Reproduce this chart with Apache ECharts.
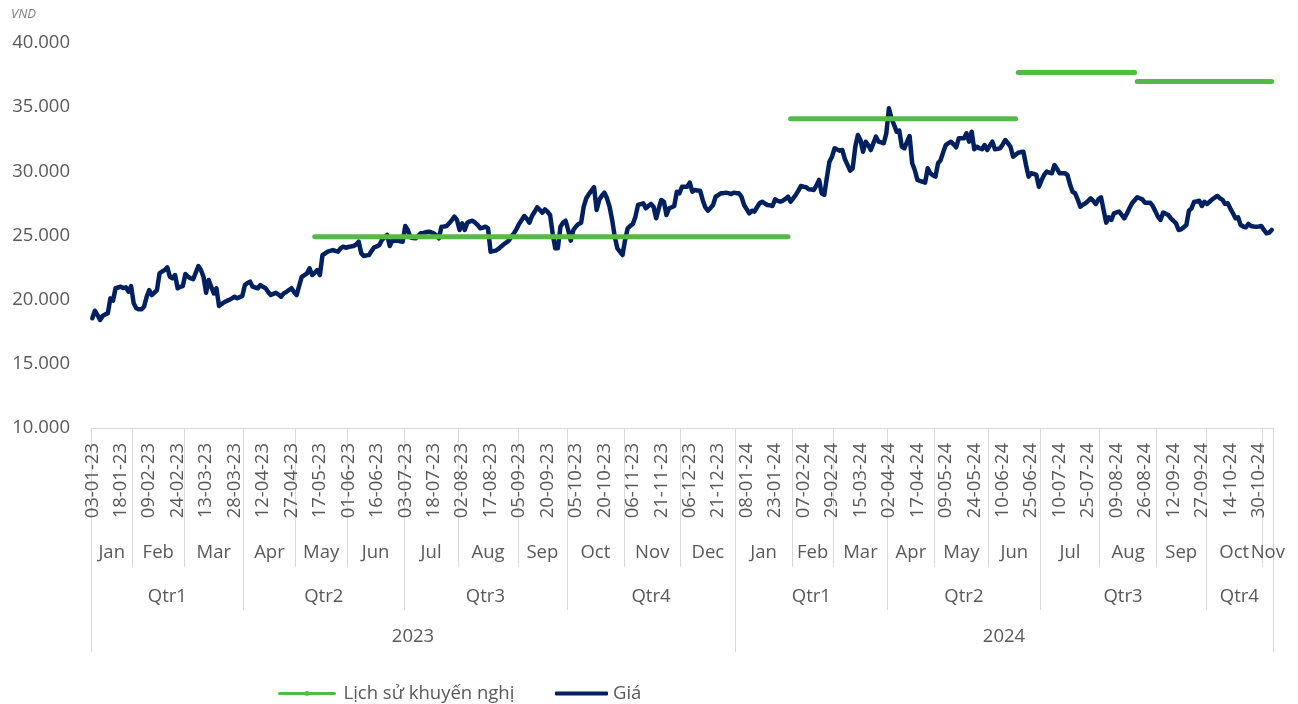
<!DOCTYPE html>
<html>
<head>
<meta charset="utf-8">
<script src="https://cdn.jsdelivr.net/npm/echarts@6/dist/echarts.min.js"></script>
<style>
html, body { margin: 0; padding: 0; background: #fff; }
#chart { width: 1298px; height: 704px; }
</style>
</head>
<body>
<div id="chart"></div>
<script>
// nhãn ngày, cứ 11 phiên hiện một nhãn
const dateLabels = [
  '03-01-23', '18-01-23', '09-02-23', '24-02-23', '13-03-23', '28-03-23', '12-04-23', '27-04-23',
  '17-05-23', '01-06-23', '16-06-23', '03-07-23', '18-07-23', '02-08-23', '17-08-23', '05-09-23',
  '20-09-23', '05-10-23', '20-10-23', '06-11-23', '21-11-23', '06-12-23', '21-12-23',
  '08-01-24', '23-01-24', '07-02-24', '29-02-24', '15-03-24', '02-04-24', '17-04-24', '09-05-24',
  '24-05-24', '10-06-24', '25-06-24', '10-07-24', '25-07-24', '09-08-24', '26-08-24', '12-09-24',
  '27-09-24', '14-10-24', '30-10-24'
];
const years = ['2023', '2024'];
const monthsPerYear = [12, 11];
const monthNames = ['Jan', 'Feb', 'Mar', 'Apr', 'May', 'Jun', 'Jul', 'Aug', 'Sep', 'Oct', 'Nov', 'Dec',
  'Jan', 'Feb', 'Mar', 'Apr', 'May', 'Jun', 'Jul', 'Aug', 'Sep', 'Oct', 'Nov'];
// số phiên giao dịch mỗi tháng
const monthDays = [16, 20, 23, 20, 20, 22, 21, 23, 19, 22, 22, 21,
  22, 16, 21, 18, 21, 20, 23, 22, 19, 22, 4];

// giá đóng cửa theo phiên
const prices = [
  18550, 19140, 18800, 18420, 18730, 18850, 18940, 20100, 19920, 20890,
  20950, 21010, 20900, 20960, 20620, 21060, 19720, 19330, 19250, 19250,
  19450, 20200, 20750, 20360, 20550, 20750, 22050, 22200, 22310, 22520,
  21790, 21670, 21920, 20890, 21000, 21060, 22000, 21800, 21670, 21590,
  22100, 22620, 22310, 21790, 20540, 21530, 21000, 20490, 20890, 19510,
  19660, 19800, 19900, 19980, 20100, 20230, 20110, 20200, 20290, 21140,
  21300, 21400, 21010, 20950, 20890, 21140, 21000, 20890, 20600, 20360,
  20450, 20540, 20400, 20230, 20490, 20600, 20750, 20890, 20600, 20360,
  21100, 21790, 21900, 22050, 22440, 21920, 22100, 22310, 21920, 23480,
  23600, 23740, 23800, 23870, 23800, 23740, 24000, 24130, 24050, 24100,
  24150, 24180, 24300, 24520, 23610, 23400, 23450, 23480, 23800, 24080,
  24150, 24260, 24650, 24850, 25040, 24180, 24600, 24600, 24600, 24550,
  24520, 25740, 25430, 24860, 24800, 24780, 24950, 25170, 25200, 25250,
  25300, 25250, 25170, 25000, 24780, 25690, 25700, 25740, 25950, 26200,
  26470, 26210, 25430, 25950, 25430, 26000, 26100, 26150, 26000, 25820,
  25560, 25600, 25690, 25560, 23740, 23780, 23820, 23950, 24130, 24300,
  24440, 24600, 24900, 25170, 25500, 25900, 26200, 26520, 26300, 26000,
  26520, 26850, 27200, 27000, 26780, 27040, 26850, 26600, 25170, 24000,
  24000, 25690, 26000, 26150, 25430, 24600, 25430, 25700, 25900, 26000,
  27250, 27900, 28230, 28500, 28760, 26990, 27770, 28100, 28340, 27900,
  27240, 26210, 24910, 24000, 23750, 23480, 24650, 25560, 25750, 25900,
  26470, 27380, 27450, 27510, 27120, 27300, 27460, 27240, 26340, 27100,
  27770, 27630, 26600, 27120, 27200, 27300, 28410, 28290, 28800, 28800,
  28800, 29120, 28410, 28550, 28500, 28490, 27770, 27200, 26930, 27150,
  27380, 28020, 28150, 28290, 28300, 28340, 28300, 28230, 28340, 28300,
  28290, 28020, 27380, 27050, 26730, 26930, 26860, 27200, 27510, 27630,
  27500, 27380, 27350, 27300, 27820, 27700, 27630, 27710, 27850, 28020,
  27630, 27900, 28160, 28500, 28860, 28800, 28760, 28600, 28580, 28550,
  28900, 29330, 28290, 28160, 29500, 30750, 31140, 31800, 31700, 31610,
  31660, 30940, 30500, 30050, 30240, 31920, 32830, 32440, 31530, 32310,
  32050, 31660, 32200, 32700, 32310, 32250, 32190, 32960, 34910, 34130,
  33610, 33090, 33170, 31920, 31800, 32300, 32750, 30630, 30100, 29330,
  29250, 29190, 29120, 30240, 29850, 29700, 29590, 30630, 30880, 31500,
  32050, 32200, 32310, 32100, 31870, 32570, 32570, 32570, 32960, 32310,
  33090, 31720, 31920, 31800, 31720, 32050, 31660, 32000, 32310, 31720,
  31750, 31800, 32100, 32440, 32200, 31920, 31140, 31300, 31450, 31500,
  31530, 30500, 29590, 29850, 29800, 29720, 28800, 29300, 29720, 29980,
  29900, 29850, 30490, 30200, 29850, 29850, 29850, 29720, 29000, 28410,
  28290, 27800, 27240, 27400, 27510, 27700, 27900, 27700, 27460, 27820,
  27980, 27000, 26000, 26420, 26210, 26730, 26800, 26860, 26600, 26340,
  26700, 27120, 27510, 27750, 27980, 27900, 27820, 27560, 27560, 27560,
  27300, 26900, 26470, 26210, 26780, 26700, 26600, 26340, 26150, 25950,
  25430, 25480, 25650, 25820, 26930, 27120, 27630, 27650, 27710, 27300,
  27630, 27460, 27630, 27820, 27950, 28080, 27900, 27770, 27460, 27510,
  27100, 26730, 26340, 26420, 25820, 25700, 25640, 25900, 25740, 25700,
  25690, 25700, 25740, 25430, 25170, 25220, 25430
];

// lịch sử khuyến nghị: phiên bắt đầu, phiên kết thúc, giá mục tiêu
const recoStart = [86, 270, 358, 404];
const recoEnd = [269, 357, 403, 456];
const recoPrice = [24900, 34100, 37700, 37000];

const N = prices.length;
const green = '#55b84b';
const navy = '#002060';
const gray = '#595959';
const lineGray = '#d9d9d9';
const font = "'Open Sans', sans-serif";

// nhóm tháng / quý / năm
const monthGroups = [], quarterGroups = [], yearGroups = [];
let pos = 0, m = 0;
years.forEach((y, yi) => {
  const yStart = pos;
  for (let k = 0; k < monthsPerYear[yi]; k++, m++) {
    if (k % 3 === 0) quarterGroups.push({ name: 'Qtr' + (k / 3 + 1), start: pos, end: pos });
    monthGroups.push({ name: monthNames[m], start: pos, end: pos + monthDays[m] });
    pos += monthDays[m];
    quarterGroups[quarterGroups.length - 1].end = pos;
  }
  yearGroups.push({ name: y, start: yStart, end: pos });
});

function levelAxis(groups, offset, margin) {
  const bounds = [-0.5].concat(groups.map(g => g.end - 0.5));
  const mid = g => (g.start + g.end - 1) / 2;
  return {
    type: 'value', gridIndex: 0, position: 'bottom', offset: offset,
    min: -0.5, max: N - 0.5,
    axisLine: { show: false },
    splitLine: { show: false },
    axisTick: {
      show: true, inside: true, length: offset, customValues: bounds,
      lineStyle: { color: lineGray, width: 1 }
    },
    axisLabel: {
      inside: true, margin: margin, customValues: groups.map(mid),
      color: gray, fontSize: 18.5, fontFamily: font,
      formatter: v => {
        const g = groups.find(g => Math.abs(mid(g) - v) < 1e-6);
        return g ? g.name : '';
      }
    }
  };
}

const series = [{
  name: 'Giá', type: 'line', data: prices, symbol: 'none',
  lineStyle: { color: navy, width: 4.5, join: 'round', cap: 'round' },
  itemStyle: { color: navy }, z: 2
}];
recoStart.forEach((s, k) => {
  series.push({
    name: 'Lịch sử khuyến nghị', type: 'line', symbol: 'circle', symbolSize: 4, showSymbol: false,
    data: prices.map((_, i) => (i >= s && i <= recoEnd[k]) ? recoPrice[k] : null),
    lineStyle: { color: green, width: 5, cap: 'round' },
    itemStyle: { color: green }, z: 3
  });
});

const chart = echarts.init(document.getElementById('chart'));
chart.setOption({
  animation: false,
  backgroundColor: '#fff',
  title: {
    text: 'VND', left: 6, top: 3,
    textStyle: { fontSize: 13, fontStyle: 'italic', fontWeight: 'normal', color: '#7f7f7f', fontFamily: font }
  },
  legend: [{
    data: ['Lịch sử khuyến nghị'], left: 273, top: 679,
    itemWidth: 55, itemHeight: 6, lineStyle: { width: 3 },
    textStyle: { color: gray, fontSize: 18.5, fontFamily: font, padding: [0, 0, 0, 4] }
  }, {
    data: [{ name: 'Giá', icon: 'roundRect' }], left: 550, top: 679,
    itemWidth: 53, itemHeight: 4,
    itemStyle: { color: navy },
    textStyle: { color: gray, fontSize: 18.5, fontFamily: font }
  }],
  grid: { left: 91, right: 25, top: 43, bottom: 276, containLabel: false },
  xAxis: [{
    type: 'category', data: prices.map((_, i) => String(i)), boundaryGap: true,
    axisLine: { lineStyle: { color: lineGray, width: 1 } },
    axisTick: { show: false },
    axisLabel: {
      interval: 10, rotate: 90, margin: 15,
      color: gray, fontSize: 18.5, fontFamily: font,
      formatter: (v, i) => (i % 11 === 0 ? dateLabels[i / 11] : '')
    },
    splitLine: { show: false }
  },
  levelAxis(monthGroups, 139, 5),
  levelAxis(quarterGroups, 182, 4),
  levelAxis(yearGroups, 224, 6)],
  yAxis: {
    type: 'value', min: 10000, max: 40000, interval: 5000,
    axisLine: { show: false }, axisTick: { show: false }, splitLine: { show: false },
    axisLabel: {
      margin: 21, color: gray, fontSize: 18.5, fontFamily: font,
      formatter: v => String(v).replace(/\B(?=(\d{3})+(?!\d))/g, '.')
    }
  },
  series: series
});
</script>
</body>
</html>
